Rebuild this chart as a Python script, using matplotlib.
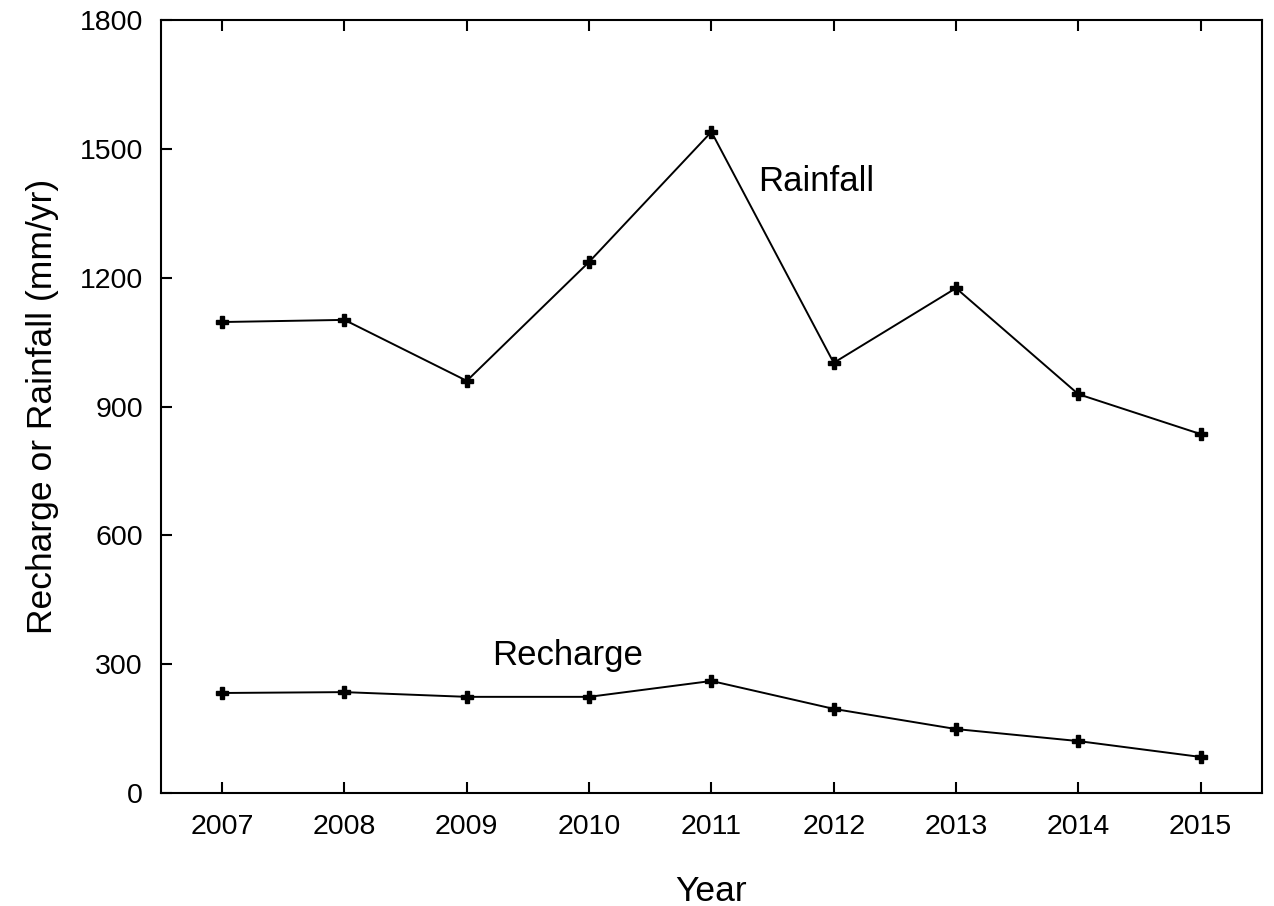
import numpy as np
import matplotlib.pyplot as plt

plt.rcParams['font.family'] = ['Liberation Sans', 'DejaVu Sans']

years = [2007, 2008, 2009, 2010, 2011, 2012, 2013, 2014, 2015]
rainfall = [1097, 1102, 960, 1237, 1540, 1002, 1176, 929, 836]
recharge = [233, 235, 224, 224, 261, 196, 149, 121, 84]

fig = plt.figure(figsize=(12.74, 9.06), dpi=100)
ax = fig.add_axes([0.1264, 0.1247, 0.864, 0.853])

ax.plot(years, rainfall, color='black', lw=1.4, marker='P', ms=8)
ax.plot(years, recharge, color='black', lw=1.4, marker='P', ms=8)

ax.text(2011.38, 1425, 'Rainfall', fontsize=25, va='center', ha='left')
ax.text(2009.21, 321, 'Recharge', fontsize=25, va='center', ha='left')

ax.set_xlim(2006.5, 2015.5)
ax.set_ylim(0, 1800)
ax.set_xticks(years)
ax.set_yticks(np.arange(0, 1801, 300))
ax.tick_params(axis='x', pad=15)
ax.tick_params(axis='y', pad=13)
ax.tick_params(direction='in', top=True, right=False, labelsize=20.5,
               length=8, width=1.5)
for s in ax.spines.values():
    s.set_linewidth(1.5)

ax.set_xlabel('Year', fontsize=25.5, labelpad=25)
ax.set_ylabel('Recharge or Rainfall (mm/yr)', fontsize=25.5, labelpad=15)

fig.savefig('out.png', dpi=100)
